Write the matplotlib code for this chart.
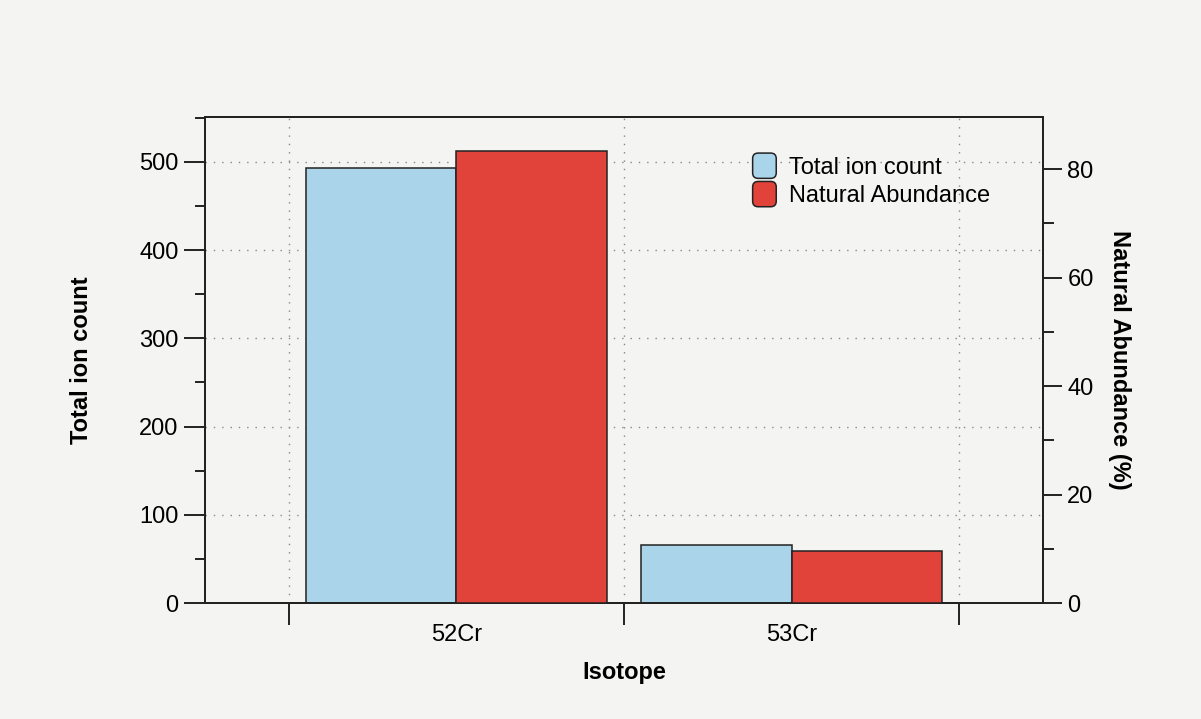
import matplotlib
matplotlib.use("Agg")
import matplotlib.pyplot as plt
import numpy as np
from matplotlib.patches import FancyBboxPatch, Rectangle
from matplotlib.legend_handler import HandlerPatch
from matplotlib.ticker import MultipleLocator, FixedLocator

plt.rcParams['font.family'] = ['Liberation Sans', 'DejaVu Sans']

isotopes = ["52Cr", "53Cr"]
total_ion_count = [493, 66]
natural_abundance = [83.3, 9.6]

blue = "#a9d4ea"
red = "#e1433a"
bg = "#f4f4f2"
ink = "#222222"
fs = 17

fig = plt.figure(figsize=(12.01, 7.19), dpi=100, facecolor=bg)
ax = fig.add_axes([205/1201, 1-603/719, (1043-205)/1201, (603-117)/719])
ax.set_facecolor(bg)
ax2 = ax.twinx()

x = np.arange(len(isotopes))
w = 0.45
b1 = ax.bar(x - w/2, total_ion_count, width=w, color=blue, edgecolor=ink,
            linewidth=1.1, zorder=3, label="Total ion count")
b2 = ax2.bar(x + w/2, natural_abundance, width=w, color=red, edgecolor=ink,
             linewidth=1.1, zorder=3, label="Natural Abundance")

ax.set_xlim(-0.75, 1.75)
ax.set_ylim(0, 551)
ax2.set_ylim(0, 89.6)

# category boundaries carry ticks and grid; labels sit at the centers
ax.xaxis.set_major_locator(FixedLocator([-0.5, 0.5, 1.5]))
ax.xaxis.set_minor_locator(FixedLocator(list(x)))
ax.set_xticklabels([], minor=False)
ax.set_xticklabels(isotopes, minor=True)
ax.tick_params(axis='x', which='major', length=16, width=1.4, color=ink)
ax.tick_params(axis='x', which='minor', length=0, pad=15, labelsize=fs)

ax.yaxis.set_major_locator(MultipleLocator(100))
ax.yaxis.set_minor_locator(MultipleLocator(50))
ax.tick_params(axis='y', which='major', length=15, width=1.4, labelsize=fs,
               color=ink, pad=4)
ax.tick_params(axis='y', which='minor', length=7, width=1.4, color=ink)

ax2.yaxis.set_major_locator(MultipleLocator(20))
ax2.yaxis.set_minor_locator(MultipleLocator(10))
ax2.tick_params(axis='y', which='major', length=14, width=1.4, labelsize=fs,
                color=ink, pad=3.5)
ax2.tick_params(axis='y', which='minor', length=8, width=1.4, color=ink)

for a in (ax, ax2):
    for s in a.spines.values():
        s.set_linewidth(1.4)
        s.set_color(ink)

ax.grid(True, which='major', axis='both', linestyle=(0, (1, 5)),
        color="#888888", linewidth=1.0, zorder=0)
ax.set_axisbelow(True)

ax.set_xlabel("Isotope", fontsize=fs, fontweight='bold', labelpad=11)
ax.set_ylabel("Total ion count", fontsize=fs, fontweight='bold', labelpad=33)
ax2.set_ylabel("Natural Abundance (%)", fontsize=fs, fontweight='bold',
               rotation=270, labelpad=27)


class RoundedHandler(HandlerPatch):
    def create_artists(self, legend, orig_handle, xdescent, ydescent,
                       width, height, fontsize, trans):
        p = FancyBboxPatch((-xdescent, -ydescent - 1.5), width, height + 3,
                           boxstyle="round,pad=0,rounding_size=4",
                           facecolor=orig_handle.get_facecolor(),
                           edgecolor=ink, linewidth=1.1, transform=trans)
        return [p]


leg = ax.legend([b1.patches[0], b2.patches[0]],
                ["Total ion count", "Natural Abundance"],
                loc='upper left', bbox_to_anchor=(0.6535, 0.9215),
                frameon=False, fontsize=fs, handlelength=1.0,
                handleheight=1.0, handletextpad=0.55, labelspacing=0.2,
                borderaxespad=0, borderpad=0,
                handler_map={Rectangle: RoundedHandler()})
leg.set_zorder(5)

fig.savefig("out.png", dpi=100, facecolor=bg)
